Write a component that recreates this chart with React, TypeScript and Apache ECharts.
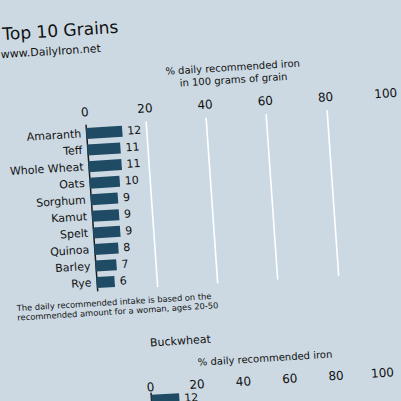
import React, { useEffect, useRef } from "react";
import * as echarts from "echarts";

const categories = ["Amaranth", "Teff", "Whole Wheat", "Oats", "Sorghum", "Kamut", "Spelt", "Quinoa", "Barley", "Rye"];
const ironPct = [12, 11, 11, 10, 9, 9, 9, 8, 7, 6];
const buckwheatCategory = ["Buckwheat"];
const buckwheatPct = [12];
const axisMin = 0;
const axisMax = 100;
const axisStep = 20;

const titleText = "Top 10 Grains";
const subtitleText = "www.DailyIron.net";
const axisName1 = "% daily recommended iron\nin 100 grams of grain";
const axisName2 = "% daily recommended iron";
const footnoteText = "The daily recommended intake is based on the\nrecommended amount for a woman, ages 20-50";

const BG = "#ccd9e3";
const BAR = "#1f4b64";
const INK = "#111111";
const FONT = "DejaVu Sans";
const OFF = 40;

export default function App() {
  const ref = useRef<HTMLDivElement>(null);
  useEffect(() => {
    if (!ref.current) return;
    const chart = echarts.init(ref.current, undefined, { renderer: "svg" });
    chart.setOption({
      animation: false,
      backgroundColor: BG,
      textStyle: { fontFamily: FONT },
      grid: [
        { left: OFF + 76.5, top: OFF + 130, width: 301, height: 165.6 },
        { left: OFF + 123, top: OFF + 401, width: 231.8, height: 14 },
      ],
      xAxis: [
        {
          gridIndex: 0,
          type: "value",
          position: "top",
          min: axisMin,
          max: axisMax,
          interval: axisStep,
          axisLine: { show: false },
          axisTick: { show: false },
          axisLabel: { fontSize: 12, color: INK, margin: 7, fontFamily: FONT },
          splitLine: {
            show: true,
            lineStyle: {
              color: ["rgba(0,0,0,0)", "#ffffff", "#ffffff", "#ffffff", "#ffffff", "rgba(0,0,0,0)"],
              width: 1.6,
            },
          },
          name: axisName1,
          nameLocation: "middle",
          nameGap: 30,
          nameTextStyle: { fontSize: 10, lineHeight: 12.5, color: INK, fontFamily: FONT },
        },
        {
          gridIndex: 1,
          type: "value",
          position: "top",
          min: axisMin,
          max: axisMax,
          interval: axisStep,
          axisLine: { show: false },
          axisTick: { show: false },
          axisLabel: { fontSize: 12, color: INK, margin: 0, fontFamily: FONT },
          splitLine: { show: false },
          name: axisName2,
          nameLocation: "middle",
          nameGap: 23,
          nameTextStyle: { fontSize: 10, color: INK, fontFamily: FONT },
        },
      ],
      yAxis: [
        {
          gridIndex: 0,
          type: "category",
          data: categories,
          inverse: true,
          axisLine: { show: true, lineStyle: { color: "#1a1a1a", width: 1.5 } },
          axisTick: { show: false },
          axisLabel: { fontSize: 11, color: INK, margin: 5, fontFamily: FONT },
        },
        {
          gridIndex: 1,
          type: "category",
          data: buckwheatCategory,
          axisLine: { show: true, lineStyle: { color: "#1a1a1a", width: 1.5 } },
          axisTick: { show: false },
          axisLabel: { show: false },
        },
      ],
      series: [
        {
          type: "bar",
          xAxisIndex: 0,
          yAxisIndex: 0,
          data: ironPct,
          barWidth: 11,
          itemStyle: { color: BAR },
          label: { show: true, position: "right", distance: 5, fontSize: 11, color: INK, fontFamily: FONT },
        },
        {
          type: "bar",
          xAxisIndex: 1,
          yAxisIndex: 1,
          data: buckwheatPct,
          barWidth: 11,
          itemStyle: { color: BAR },
          label: { show: true, position: "right", distance: 5, fontSize: 11, color: INK, fontFamily: FONT },
        },
      ],
      graphic: [
        {
          type: "text",
          x: OFF + 0,
          y: OFF + 34,
          style: { text: titleText, fontSize: 17, fill: INK, fontFamily: FONT, verticalAlign: "middle" },
        },
        {
          type: "text",
          x: OFF - 3,
          y: OFF + 54.5,
          style: { text: subtitleText, fontSize: 11, fill: INK, fontFamily: FONT, verticalAlign: "middle" },
        },
        {
          type: "text",
          x: OFF - 4.8,
          y: OFF + 312.5,
          style: { text: footnoteText, fontSize: 8.3, lineHeight: 9.5, fill: INK, fontFamily: FONT, verticalAlign: "middle" },
        },
        {
          type: "text",
          x: OFF + 125.5,
          y: OFF + 350.7,
          style: { text: "Buckwheat", fontSize: 11, fill: INK, fontFamily: FONT, verticalAlign: "middle" },
        },
      ],
    });
    return () => chart.dispose();
  }, []);

  return (
    <>
      <div style={{ position: "fixed", left: 0, top: 0, width: "100vw", height: "100vh", background: BG }} />
      <div
        ref={ref}
        style={{
          position: "fixed",
          left: -OFF,
          top: -OFF,
          width: 500,
          height: 500,
          transformOrigin: `${OFF}px ${OFF}px`,
          transform: "matrix(1,-0.062,0.07,1,0,0)",
        }}
      />
    </>
  );
}
